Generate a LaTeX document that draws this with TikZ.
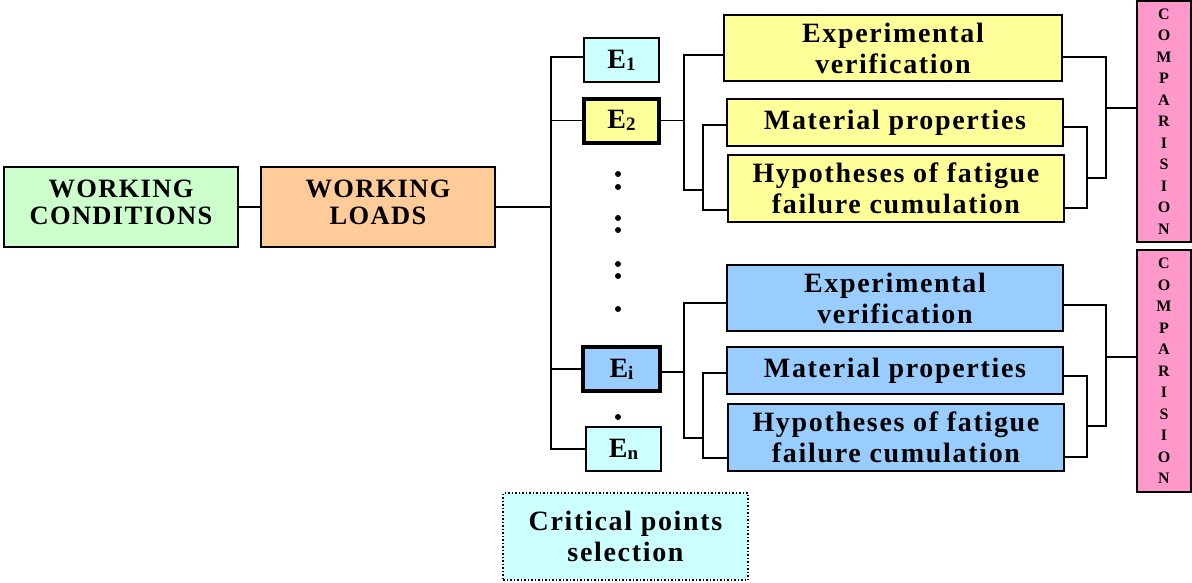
\documentclass[tikz,border=0pt]{standalone}
\usepackage{fontspec}
\setmainfont{Liberation Serif}[LetterSpace=6]
\usepackage{tikz}
\usepackage{xcolor}
\usetikzlibrary{positioning, calc}

\definecolor{wcgreen}{HTML}{CCFFCC}
\definecolor{wlorange}{HTML}{FFCC99}
\definecolor{ecyan}{HTML}{CCFFFF}
\definecolor{eyellow}{HTML}{FFFF99}
\definecolor{eblue}{HTML}{99CCFF}
\definecolor{cmppink}{HTML}{FF99CC}

\tikzset{
  box/.style={draw, line width=1.5pt, inner sep=0pt, align=center},
  bigtext/.style={font=\fontsize{26.5}{27}\selectfont\bfseries\addfontfeatures{LetterSpace=5}, text depth=10pt},
  midtext/.style={font=\fontsize{28}{31}\selectfont\bfseries},
  ebox/.style={box, minimum width=75pt, minimum height=44pt, font=\fontsize{28}{28}\selectfont\bfseries},
  selbox/.style={ebox, line width=4pt},
  cmpbox/.style={box, minimum width=54pt, minimum height=241pt, fill=cmppink,
    font=\fontsize{16}{21.5}\selectfont\bfseries},
  link/.style={line width=1.5pt},
}
\newcommand{\esub}[2]{#1{\fontsize{19}{19}\selectfont\raisebox{-2pt}{#2}}}
\newcommand{\cmptext}{C\\O\\M\\P\\A\\R\\I\\S\\I\\O\\N}

\begin{document}
\begin{tikzpicture}[x=1pt, y=-1pt]
\useasboundingbox (0,0) rectangle (1192,582);

% left part
\node[box, bigtext, fill=wcgreen, minimum width=234pt, minimum height=80pt] (wc) at (121,207) {WORKING\\CONDITIONS};
\node[box, bigtext, fill=wlorange, minimum width=234pt, minimum height=80pt] (wl) at (378,207) {WORKING\\LOADS};

% load cases
\node[ebox, fill=ecyan] (e1) at (621.5,60) {\esub{E}{1}};
\node[selbox, fill=eyellow] (e2) at (621.5,120.5) {\esub{E}{2}};
\node[selbox, fill=eblue, minimum width=77pt] (ei) at (621.5,369) {\esub{E}{i}};
\node[ebox, fill=ecyan] (en) at (623.5,449) {\esub{E}{n}};
\foreach \y in {174,187,218,230,264,276,309,417}
  \fill (618,\y) circle (3pt);

\node[box, midtext, fill=ecyan, dotted, line width=2pt, minimum width=245pt, minimum height=87pt] (cps) at (625.5,536.5) {Critical points\\selection};

% yellow branch
\node[box, midtext, fill=eyellow, minimum width=338pt, minimum height=66pt] (ev1) at (893,48) {Experimental\\verification};
\node[box, midtext, fill=eyellow, minimum width=336pt, minimum height=47pt] (mp1) at (895,122.5) {Material properties};
\node[box, midtext, fill=eyellow, minimum width=336pt, minimum height=67pt] (hf1) at (896,188.5) {Hypotheses of fatigue\\failure cumulation};
\node[cmpbox] (cmp1) at (1164,121.5) {\cmptext};

% blue branch
\node[box, midtext, fill=eblue, minimum width=336pt, minimum height=66pt] (ev2) at (895,298) {Experimental\\verification};
\node[box, midtext, fill=eblue, minimum width=336pt, minimum height=47pt] (mp2) at (895,370.5) {Material properties};
\node[box, midtext, fill=eblue, minimum width=336pt, minimum height=67pt] (hf2) at (896,437.5) {Hypotheses of fatigue\\failure cumulation};
\node[cmpbox, minimum height=242pt] (cmp2) at (1164,371) {\cmptext};

% junction points
\coordinate (bus) at (551,207);
\coordinate (fk) at (684,0);
\coordinate (b1) at (703,190);
\coordinate (b2) at (703,438);
\coordinate (c1) at (1087,178);
\coordinate (d1) at (1106,108);
\coordinate (c2) at (1087,426);
\coordinate (d2) at (1106,357);

% connectors
\draw[link] (wc) -- (wl);
\draw[link] (wl.east) -- (bus);
\draw[link] ([yshift=3pt]e1.west) -| (bus) |- (en.west);
\draw[link] (e2.west) -- (e2.west -| bus);
\draw[link] (ei.west) -- (ei.west -| bus);

\draw[link] (e2.east) -- (e2.east -| fk);
\draw[link] ([yshift=-7pt]ev1.west) -| (b1 -| fk) -- (b1);
\draw[link] ([yshift=-2.5pt]mp1.west) -| (b1) |- ([yshift=-21.5pt]hf1.west);
\draw[link] ([yshift=-9pt]ev1.east) -| (c1 -| d1) -- (c1);
\draw[link] ([yshift=-4.5pt]mp1.east) -| (c1) |- ([yshift=-19.5pt]hf1.east);
\draw[link] (d1) -- (d1 -| cmp1.west);

\draw[link] ([yshift=-3pt]ei.east) -- ([yshift=-3pt]ei.east -| fk);
\draw[link] ([yshift=-5pt]ev2.west) -| (b2 -| fk) -- (b2);
\draw[link] ([yshift=-2.5pt]mp2.west) -| (b2) |- ([yshift=-20.5pt]hf2.west);
\draw[link] ([yshift=-7pt]ev2.east) -| (c2 -| d2) -- (c2);
\draw[link] ([yshift=-5.5pt]mp2.east) -| (c2) |- ([yshift=-19.5pt]hf2.east);
\draw[link] (d2) -- (d2 -| cmp2.west);
\end{tikzpicture}
\end{document}
